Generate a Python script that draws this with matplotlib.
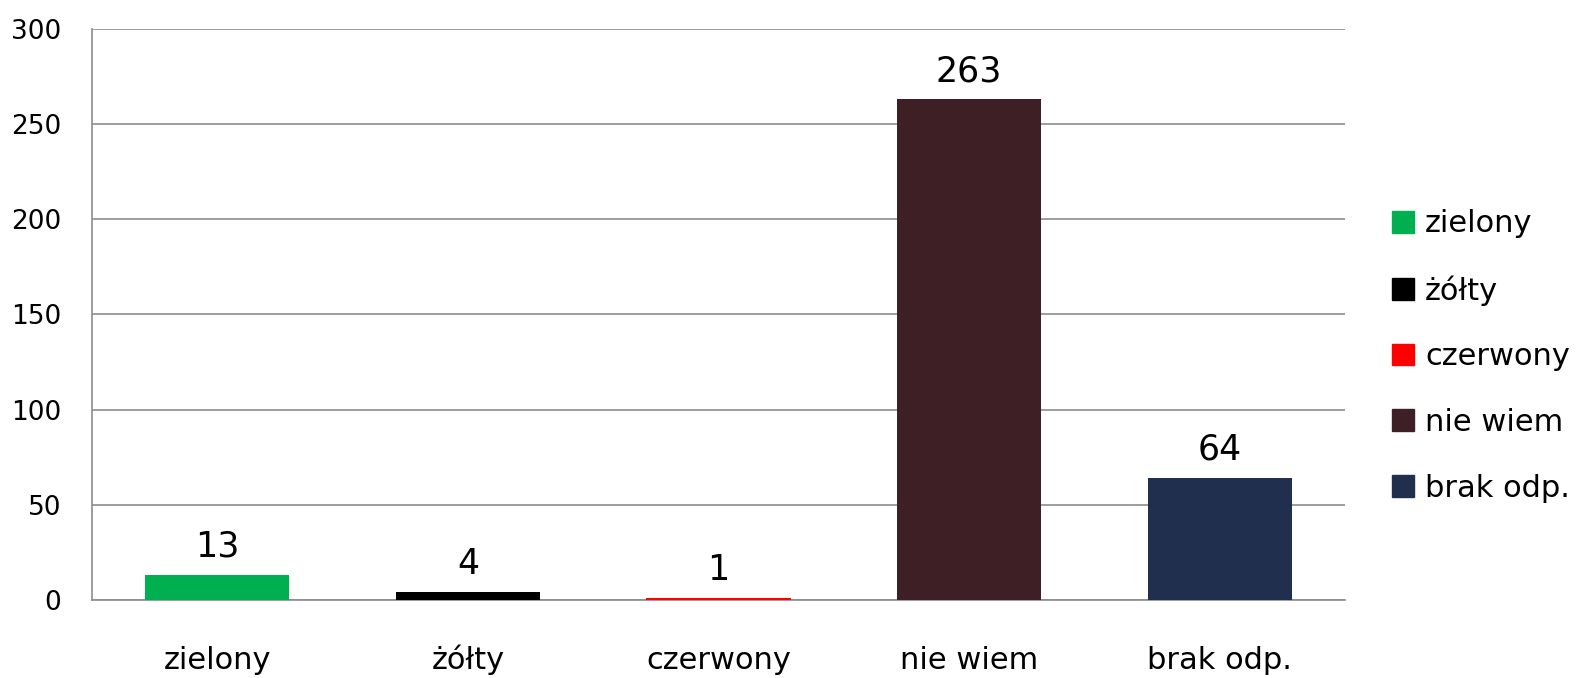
import matplotlib
matplotlib.use("Agg")
import matplotlib.pyplot as plt
from matplotlib.patches import Patch

categories = ["zielony", "żółty", "czerwony", "nie wiem", "brak odp."]
values = [13, 4, 1, 263, 64]
colors = ["#00B050", "#000000", "#FF0000", "#3F1F26", "#1F2F4D"]
yticks = [0, 50, 100, 150, 200, 250, 300]

plt.rcParams['font.family'] = ['DejaVu Sans']

fig = plt.figure(figsize=(15.77, 6.78), dpi=100)
ax = fig.add_axes([92/1577, 1 - 600/678, (1345-92)/1577, (600-29)/678])

x = list(range(len(categories)))
bars = ax.bar(x, values, width=0.575, color=colors, zorder=3)
for xi, v in zip(x, values):
	ax.text(xi, v + 6, str(v), ha="center", va="bottom", fontsize=25)

ax.set_xlim(-0.5, len(categories) - 0.5)
ax.set_ylim(0, 300)
ax.set_yticks(yticks)
ax.set_xticks(x)
ax.set_xticklabels(categories, fontsize=22)
ax.tick_params(axis="x", length=0, pad=50)
ax.tick_params(axis="y", length=0, pad=22, labelsize=19)
for lab in ax.get_xticklabels():
	lab.set_verticalalignment("baseline")
for lab in ax.get_yticklabels():
	lab.set_horizontalalignment("right")
ax.grid(axis="y", color="#8c8c8c", linewidth=1.2, zorder=0)
for s in ["top", "right"]:
	ax.spines[s].set_visible(False)
for s in ["left", "bottom"]:
	ax.spines[s].set_color("#8c8c8c")
	ax.spines[s].set_linewidth(1.2)

handles = [Patch(color=c, label=l) for c, l in zip(colors, categories)]
fig.legend(handles=handles, loc="center left", bbox_to_anchor=(1392/1577, 1 - 356/678),
	frameon=False, fontsize=22, handlelength=0.72, handleheight=0.72,
	handletextpad=0.36, labelspacing=1.2, borderaxespad=0, borderpad=0)

fig.savefig("out.png", dpi=100)
